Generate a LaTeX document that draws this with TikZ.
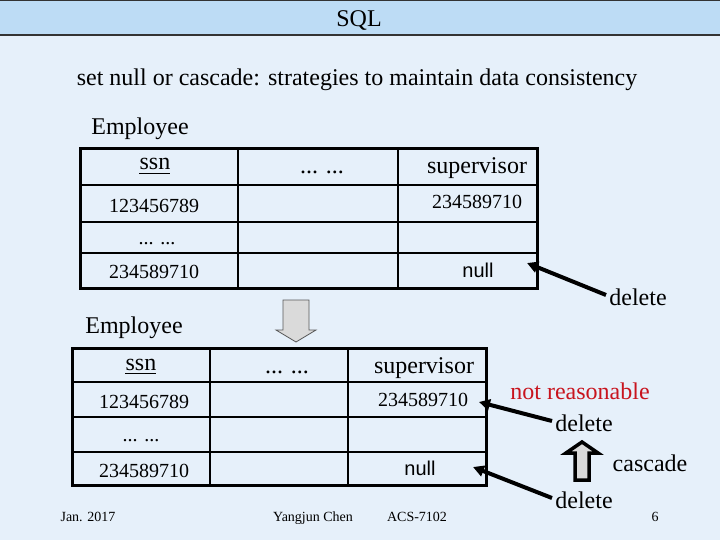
\documentclass[tikz,border=0pt]{standalone}
\usepackage{fontspec}
\setmainfont{Liberation Serif}
\newfontfamily\arialf{Liberation Sans}
\usetikzlibrary{arrows.meta}
\definecolor{bgc}{HTML}{E6F0FA}
\definecolor{bandc}{HTML}{BDDCF5}
\definecolor{redt}{HTML}{C8141E}
\definecolor{grayf}{HTML}{DADADA}
\tikzset{
  big/.style={font=\fontsize{24}{28}\selectfont, inner sep=0pt, anchor=base},
  dat/.style={font=\fontsize{20}{24}\selectfont, inner sep=0pt, anchor=base},
  nul/.style={font=\arialf\fontsize{20}{24}\selectfont, inner sep=0pt, anchor=base},
  foot/.style={font=\fontsize{14}{16}\selectfont, inner sep=0pt, anchor=base},
  outer/.style={draw=black, line width=3pt},
  inner/.style={draw=black, line width=1.6pt},
  ptr/.style={draw=black, line width=4pt, -{Triangle[length=11pt,width=11pt]}, shorten <=0pt},
}
\begin{document}
\begin{tikzpicture}[x=1pt,y=-1pt]
\useasboundingbox (0,0) rectangle (720,540);
\fill[bgc] (0,0) rectangle (720,540);
\fill[bandc] (0,0) rectangle (720,35);
\draw[line width=1.5pt, black!80] (0,0.75) -- (720,0.75);
\draw[line width=1.5pt, black!80] (0,35) -- (720,35);
\node[big] (title) at (359,27) {SQL};
\node[big] (sub) at (357,86) {set null or cascade: strategies to maintain data consistency};

% ---------- top table ----------
\node[big] (emp1) at (140,135) {Employee};
\draw[inner] (238,149) -- (238,288) (398,149) -- (398,288);
\draw[inner] (80,185) -- (537,185) (80,222) -- (537,222) (80,253) -- (537,253);
\draw[outer] (80,149) rectangle (537,288);
\node[big] (t1ssn) at (155,170) {ssn};
\draw[line width=1.3pt] (t1ssn.base west) ++(0,3.5) -- ++(31,0);
\node[big] (t1dots) at (322,174) {... ...};
\node[big] (t1sup) at (477,174) {supervisor};
\node[dat] (t1a) at (154,212) {123456789};
\node[dat] (t1b) at (477,208) {234589710};
\node[dat] (t1c) at (157,244) {... ...};
\node[dat] (t1d) at (154,278) {234589710};
\node[nul] (t1null) at (478,277) {null};

% ---------- down arrow ----------
\draw[draw=black!65, line width=0.8pt, fill=grayf] (283,300) -- (309,300) -- (309,330) -- (316,330) -- (296,342) -- (276,330) -- (283,330) -- cycle;

% ---------- bottom table ----------
\node[big] (emp2) at (134,333) {Employee};
\draw[inner] (210,348) -- (210,485) (348,348) -- (348,485);
\draw[inner] (72,382) -- (486,382) (72,417) -- (486,417) (72,452) -- (486,452);
\draw[outer] (72,348) rectangle (486,485);
\node[big] (t2ssn) at (141,370) {ssn};
\draw[line width=1.3pt] (t2ssn.base west) ++(0,3.5) -- ++(31,0);
\node[big] (t2dots) at (287,373) {... ...};
\node[big] (t2sup) at (424,373) {supervisor};
\node[dat] (t2a) at (144,408) {123456789};
\node[dat] (t2b) at (423,406) {234589710};
\node[dat] (t2c) at (141,441) {... ...};
\node[dat] (t2d) at (144,477) {234589710};
\node[nul] (t2null) at (420,475) {null};

% ---------- right side labels ----------
\node[big] (del1) at (638,305) {delete};
\node[big, text=redt] (nr) at (580,399) {not reasonable};
\node[big] (del2) at (584,431) {delete};
\node[big] (casc) at (650,471) {cascade};
\node[big] (del3) at (584,508) {delete};

\coordinate (d1tail) at (606,295);
\coordinate (d1tip) at (527,263);
\coordinate (d2tail) at (552,421);
\coordinate (d2tip) at (479,402);
\coordinate (d3tail) at (552,498);
\coordinate (d3tip) at (473,467);
\draw[ptr] (d1tail) -- (d1tip);
\draw[ptr] (d2tail) -- (d2tip);
\draw[ptr] (d3tail) -- (d3tip);

% ---------- up arrow ----------
\draw[draw=black, line width=3.5pt, fill=grayf, line join=miter] (575,480) -- (589,480) -- (589,453) -- (598,453) -- (582,442) -- (566,453) -- (575,453) -- cycle;

% ---------- footer ----------
\node[foot] (f1) at (88,521) {Jan. 2017};
\node[foot] (f2) at (313,521) {Yangjun Chen};
\node[foot] (f3) at (417,521) {ACS-7102};
\node[foot] (f4) at (655,521) {6};
\end{tikzpicture}
\end{document}
